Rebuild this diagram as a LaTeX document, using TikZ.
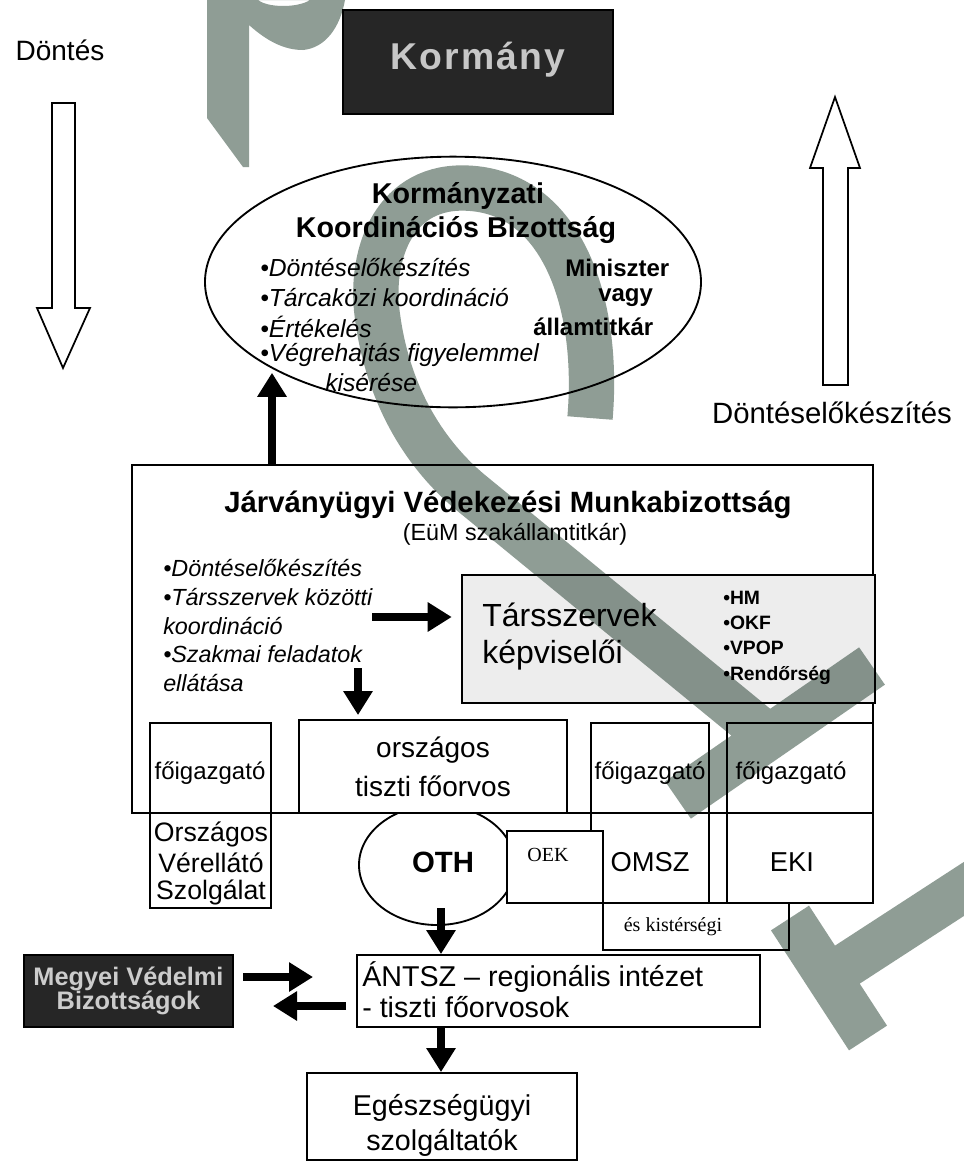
\documentclass[tikz,border=0pt]{standalone}
\usepackage{fontspec}
\setmainfont{Liberation Sans}
\newfontfamily\tms{Liberation Serif}
\usetikzlibrary{arrows.meta,fit,shapes.geometric}
\definecolor{wm}{RGB}{143,157,149}
\newcommand{\fs}[1]{\fontsize{#1}{#1}\selectfont}
\begin{document}
\begin{tikzpicture}[x=0.75pt,y=-0.75pt,
  box/.style={draw, line width=1.4pt, inner sep=0pt},
  darkbox/.style={fill=black!85, draw=black, line width=1pt, inner sep=0pt},
  thickarrow/.style={line width=5.5pt, -{Triangle[length=18pt,width=21pt]}},
  hollow/.style={draw, line width=1.3pt, fill=white},
  txt/.style={inner sep=0pt, align=center},
  lt/.style={inner sep=0pt, anchor=west, align=left},
  wmark/.style={draw=wm, line width=34pt, line cap=butt, blend mode=multiply}
]
\path[use as bounding box, fill=white] (0,0) rectangle (964,1161);

% ---------- top
\node[txt, font=\fs{21}] (dontes) at (60,50) {Döntés};
\path[hollow] (52,103) -- (75,103) -- (75,308) -- (90,308) -- (63,368) -- (37,308) -- (52,308) -- cycle;

\node[darkbox, fit={(343,10) (613,114)}] (korm) {};
\node[txt, font=\bfseries\fs{28}\addfontfeature{LetterSpace=6}, text=white!78!black] (kormt) at (478,60) {Kormány};

\path[hollow] (823,385) -- (848,385) -- (848,168) -- (860,168) -- (835,97) -- (810,168) -- (823,168) -- cycle;
\node[txt, font=\fs{22}] (dek) at (832,413) {Döntéselőkészítés};

% ---------- ellipse
\node[draw, ellipse, line width=1.4pt, minimum width=372pt, minimum height=188pt, inner sep=0pt] (kkb) at (453,282) {};
\node[txt, font=\bfseries\fs{21.5}] (kkb1) at (458,196) {Kormányzati};
\node[txt, font=\bfseries\fs{21.5}] (kkb2) at (456,230) {Koordinációs Bizottság};
\node[lt, font=\itshape\fs{18.5}] (b1) at (260,268) {•Döntéselőkészítés};
\node[lt, font=\itshape\fs{18.5}] (b2) at (260,298) {•Tárcaközi koordináció};
\node[lt, font=\itshape\fs{18.5}] (b3) at (260,327) {•Értékelés};
\node[lt, font=\itshape\fs{18.5}] (b4) at (260,355) {•Végrehajtás figyelemmel};
\node[lt, font=\itshape\fs{18.5}] (b5) at (325,383) {kisérése};
\node[lt, font=\bfseries\fs{18}] (m1) at (565,268) {Miniszter};
\node[lt, font=\bfseries\fs{18}] (m2) at (598,298) {vagy};
\node[lt, font=\bfseries\fs{18}] (m3) at (533,327) {államtitkár};

% ---------- OTH ellipse (partly hidden by big box)
\node[draw, ellipse, line width=1.4pt, minimum width=117pt, minimum height=90pt, inner sep=0pt] (oth) at (437,865) {};

% ---------- big box
\node[box, fill=white, fit={(132,465) (873,813)}] (big) {};
\node[txt, font=\bfseries\fs{22}] (bigt) at (508,505) {Járványügyi Védekezési Munkabizottság};
\node[txt, font=\fs{17.5}] (bigs) at (515,534) {(EüM szakállamtitkár)};
\node[lt, font=\itshape\fs{17.5}] (c1) at (163,568) {•Döntéselőkészítés};
\node[lt, font=\itshape\fs{17.5}] (c2) at (163,597) {•Társszervek közötti};
\node[lt, font=\itshape\fs{17.5}] (c3) at (163,626) {koordináció};
\node[lt, font=\itshape\fs{17.5}] (c4) at (163,654) {•Szakmai feladatok};
\node[lt, font=\itshape\fs{17.5}] (c5) at (163,683) {ellátása};

\node[box, fill=black!7, fit={(462,575) (875,703)}] (tars) {};
\node[lt, font=\fs{24}] (tars1) at (482,615) {Társszervek};
\node[lt, font=\fs{24}] (tars2) at (482,655) {képviselői};
\node[lt, font=\bfseries\fs{14.5}] (l1) at (723,598) {•HM};
\node[lt, font=\bfseries\fs{14.5}] (l2) at (723,623) {•OKF};
\node[lt, font=\bfseries\fs{14.5}] (l3) at (723,648) {•VPOP};
\node[lt, font=\bfseries\fs{14.5}] (l4) at (723,675) {•Rendőrség};

\node[box, fill=white, fit={(299,720) (567,813)}] (tiszti) {};
\node[txt, font=\fs{21}] (tiszti1) at (433,750) {országos};
\node[txt, font=\fs{21}] (tiszti2) at (433,786) {tiszti főorvos};

\node[box, fit={(150,723) (271,908)}] (ovsz) {};
\node[txt, font=\fs{18}] (f1) at (210,773) {főigazgató};
\node[txt, font=\fs{20}] (o1) at (211,834) {Országos};
\node[txt, font=\fs{20}] (o2) at (211,863) {Vérellátó};
\node[txt, font=\fs{20}] (o3) at (211,892) {Szolgálat};

\node[box, fit={(591,723) (709,903)}] (omsz) {};
\node[txt, font=\fs{18}] (f2) at (650,773) {főigazgató};
\node[txt, font=\fs{20.5}] (omszt) at (650,862) {OMSZ};

\node[box, fit={(727,723) (873,903)}] (eki) {};
\node[txt, font=\fs{18}] (f3) at (791,773) {főigazgató};
\node[txt, font=\fs{20.5}] (ekit) at (792,862) {EKI};

\node[txt, font=\bfseries\fs{22}] (otht) at (443,862) {OTH};
\node[box, fill=white, fit={(507,831) (603,903)}] (oek) {};
\node[txt, font=\tms\fs{15}] (oekt) at (548,855) {OEK};
\node[box, fill=white, fit={(603,903) (789,950)}] (kist) {};
\node[txt, font=\tms\fs{15}] (kistt) at (673,927) {és kistérségi};

% ---------- lower part
\node[box, fill=white, fit={(357,955) (760,1027)}] (antsz) {};
\node[lt, font=\fs{21.5}] (an1) at (362,977) {ÁNTSZ – regionális intézet};
\node[lt, font=\fs{21.5}] (an2) at (362,1007) {- tiszti főorvosok};

\node[darkbox, fit={(24,955) (233,1027)}] (megyei) {};
\node[txt, font=\bfseries\fs{19}, text=white!80!black] (megyeit) at (megyei.center) {Megyei Védelmi\\[-1pt]Bizottságok};

\node[box, fill=white, fit={(307,1073) (577,1160)}] (egesz) {};
\node[txt, font=\fs{21.5}] (eg1) at (442,1108) {Egészségügyi};
\node[txt, font=\fs{21.5}] (eg2) at (442,1143) {szolgáltatók};

% ---------- connectors
\coordinate (x272) at (272,0);
\draw[thickarrow, shorten >=4pt] (big.north -| x272) -- (x272 |- kkb.205);
\coordinate (a1) at (372,617);
\draw[thickarrow, shorten >=7pt] (a1) -- (a1 -| tars.west);
\coordinate (a2) at (358,668);
\draw[thickarrow, shorten >=3pt] (a2) -- (a2 |- tiszti.north);
\coordinate (a3) at (441,908);
\draw[thickarrow] (a3) -- (a3 |- antsz.north);
\coordinate (a4) at (243,977);
\coordinate (a4e) at (313,977);
\draw[thickarrow] (a4) -- (a4e);
\coordinate (a5) at (346,1006);
\coordinate (a5e) at (273,1006);
\draw[thickarrow] (a5) -- (a5e);
\coordinate (x441) at (441,0);
\draw[thickarrow] (antsz.south -| x441) -- (egesz.north -| x441);

% ---------- watermark: one stroked path so overlaps are not doubled
\fill[wm, blend mode=multiply, even odd rule] (207,0) -- (207,118) -- (243,167) -- (249,167) -- (249,25)
   .. controls (268,42) and (285,50) .. (303,50) .. controls (325,48) and (340,28) .. (345,0) -- cycle
   (258,0) .. controls (268,8) and (298,8) .. (310,0) -- cycle;
\draw[wmark] (590,418) .. controls (600,300) and (560,188) .. (462,188)
   .. controls (392,188) and (368,258) .. (378,320) .. controls (388,390) and (420,450) .. (470,492) -- (775,742)
   (678,800) -- (872,666)
   (790,918) -- (868,1038)
   (836,972) -- (990,872);
\end{tikzpicture}
\end{document}
